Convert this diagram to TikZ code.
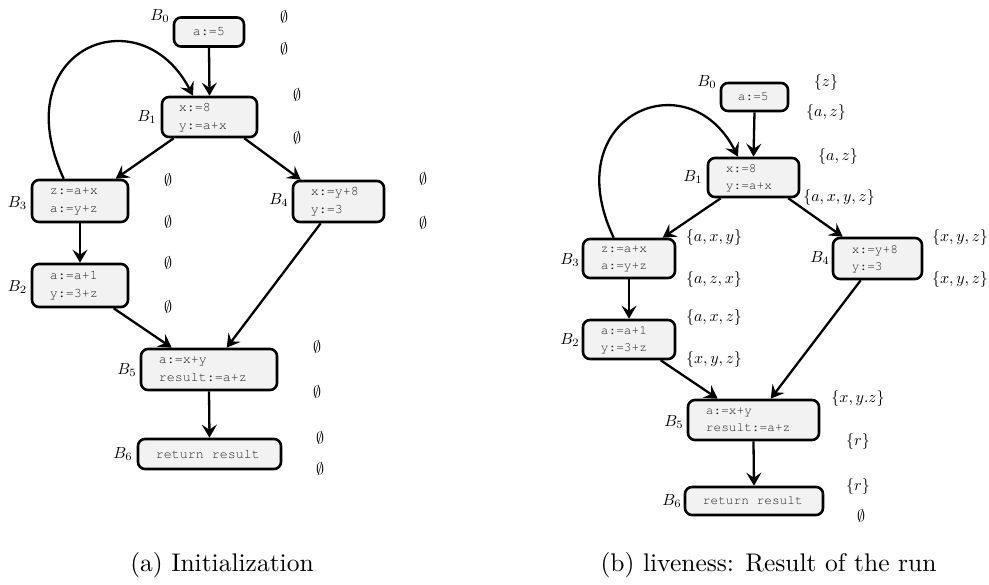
\documentclass[tikz,border=0pt]{standalone}
\usepackage[T1]{fontenc}
\usepackage{fontspec}
\usetikzlibrary{arrows.meta}
\newcommand{\crfont}[2]{\fontencoding{T1}\fontfamily{pcr}\fontseries{m}\fontshape{n}\fontsize{#1}{#2}\selectfont}
\tikzset{
  blk/.style={draw=black, line width=2.6pt, rounded corners=7pt, fill=black!5, inner sep=0pt},
  codeL/.style={font=\crfont{13.33}{18}, text=black!85, align=left, inner sep=0pt, anchor=west},
  codeR/.style={font=\crfont{12.8}{17}, text=black!85, align=left, inner sep=0pt, anchor=west},
  arr/.style={line width=2.3pt, -{Stealth[length=13pt,width=15pt,inset=5pt]}},
  lab/.style={inner sep=0pt, scale=1.6},
  captxt/.style={inner sep=0pt, scale=2.55}
}
\begin{document}
\begin{tikzpicture}[x=1pt,y=-1pt]
\useasboundingbox (0,0) rectangle (989,585);
% ---------- left diagram ----------
\node[blk, minimum width=70pt, minimum height=29pt] (a0) at (209,32) {};
\node[blk, minimum width=95pt, minimum height=40pt] (a1) at (209.5,117) {};
\node[blk, minimum width=96pt, minimum height=42pt] (a3) at (80,201) {};
\node[blk, minimum width=91pt, minimum height=41pt] (a4) at (338.5,201.5) {};
\node[blk, minimum width=96pt, minimum height=43pt] (a2) at (80,285.5) {};
\node[blk, minimum width=136pt, minimum height=41pt] (a5) at (209,369.5) {};
\node[blk, minimum width=143pt, minimum height=30pt] (a6) at (209.5,454) {};
\node[codeL] (ta0) at ([xshift=20pt]a0.west) {a:=5};
\node[codeL] (ta1) at ([xshift=18pt]a1.west) {x:=8\\y:=a+x};
\node[codeL] (ta3) at ([xshift=19pt]a3.west) {z:=a+x\\a:=y+z};
\node[codeL] (ta4) at ([xshift=19pt]a4.west) {x:=y+8\\y:=3};
\node[codeL] (ta2) at ([xshift=19pt]a2.west) {a:=a+1\\y:=3+z};
\node[codeL] (ta5) at ([xshift=19pt]a5.west) {a:=x+y\\result:=a+z};
\node[codeL] (ta6) at ([xshift=19pt]a6.west) {return result};
\draw[arr] (a0.south) -- (a1.north);
\draw[arr] ([xshift=13pt]a1.south west) -- ([xshift=85pt]a3.north west);
\draw[arr] ([xshift=-14pt]a1.south east) -- ([xshift=9pt]a4.north west);
\draw[arr] (a3.south) -- (a2.north);
\draw[arr] ([xshift=83pt]a2.south west) -- ([xshift=32pt]a5.north west);
\draw[arr] ([xshift=29pt]a4.south west) -- ([xshift=87pt]a5.north west);
\draw[arr] (a5.south) -- (a6.north);
\draw[arr] ([xshift=33pt]a3.north west) .. controls +(-60,-130) and +(-53,-102) .. ([xshift=-16.5pt]a1.north);
\node[lab] (la0) at (160,16) {$B_0$};
\node[lab] (la1) at (147,117) {$B_1$};
\node[lab] (la3) at (17.5,203) {$B_3$};
\node[lab] (la4) at (279,200) {$B_4$};
\node[lab] (la2) at (17.5,287) {$B_2$};
\node[lab] (la5) at (127,370) {$B_5$};
\node[lab] (la6) at (123,454) {$B_6$};
\node[lab] (e1) at (284,17) {$\emptyset$};
\node[lab] (e2) at (284,49) {$\emptyset$};
\node[lab] (e3) at (297,95) {$\emptyset$};
\node[lab] (e4) at (297,138) {$\emptyset$};
\node[lab] (e5) at (168,180) {$\emptyset$};
\node[lab] (e6) at (168,222) {$\emptyset$};
\node[lab] (e7) at (423,179) {$\emptyset$};
\node[lab] (e8) at (423,223) {$\emptyset$};
\node[lab] (e9) at (168,263) {$\emptyset$};
\node[lab] (e10) at (168,307) {$\emptyset$};
\node[lab] (e11) at (317,347) {$\emptyset$};
\node[lab] (e12) at (317,392) {$\emptyset$};
\node[lab] (e13) at (320,438) {$\emptyset$};
\node[lab] (e14) at (320,469) {$\emptyset$};
% ---------- right diagram ----------
\node[blk, minimum width=67pt, minimum height=28pt] (b0) at (754.5,97) {};
\node[blk, minimum width=91pt, minimum height=39pt] (b1) at (753.5,177.5) {};
\node[blk, minimum width=92pt, minimum height=39pt] (b3) at (629,258.5) {};
\node[blk, minimum width=89pt, minimum height=41pt] (b4) at (877.5,258.5) {};
\node[blk, minimum width=92pt, minimum height=39pt] (b2) at (629,339.5) {};
\node[blk, minimum width=131pt, minimum height=40pt] (b5) at (753.5,420) {};
\node[blk, minimum width=138pt, minimum height=28pt] (b6) at (754,501) {};
\node[codeR] (tb0) at ([xshift=18pt]b0.west) {a:=5};
\node[codeR] (tb1) at ([xshift=19pt]b1.west) {x:=8\\y:=a+x};
\node[codeR] (tb3) at ([xshift=19pt]b3.west) {z:=a+x\\a:=y+z};
\node[codeR] (tb4) at ([xshift=20pt]b4.west) {x:=y+8\\y:=3};
\node[codeR] (tb2) at ([xshift=19pt]b2.west) {a:=a+1\\y:=3+z};
\node[codeR] (tb5) at ([xshift=19pt]b5.west) {a:=x+y\\result:=a+z};
\node[codeR] (tb6) at ([xshift=19pt]b6.west) {return result};
\draw[arr] (b0.south) -- (b1.north);
\draw[arr] ([xshift=14pt]b1.south west) -- ([xshift=81pt]b3.north west);
\draw[arr] ([xshift=-12pt]b1.south east) -- ([xshift=11pt]b4.north west);
\draw[arr] (b3.south) -- (b2.north);
\draw[arr] ([xshift=79pt]b2.south west) -- ([xshift=31pt]b5.north west);
\draw[arr] ([xshift=29pt]b4.south west) -- ([xshift=84pt]b5.north west);
\draw[arr] (b5.south) -- (b6.north);
\draw[arr] ([xshift=32pt]b3.north west) .. controls +(-58,-122) and +(-50,-98) .. ([xshift=-15.5pt]b1.north);
\node[lab] (lb0) at (707,82) {$B_0$};
\node[lab] (lb1) at (693,177) {$B_1$};
\node[lab] (lb3) at (570,260) {$B_3$};
\node[lab] (lb4) at (820,258) {$B_4$};
\node[lab] (lb2) at (570,340) {$B_2$};
\node[lab] (lb5) at (674,422) {$B_5$};
\node[lab] (lb6) at (672,501) {$B_6$};
\node[lab] (s1) at (826,83) {$\{z\}$};
\node[lab] (s2) at (826,113) {$\{a, z\}$};
\node[lab] (s3) at (838,157) {$\{a, z\}$};
\node[lab] (s4) at (839,198) {$\{a, x, y, z\}$};
\node[lab] (s5) at (714,238) {$\{a, x, y\}$};
\node[lab] (s6) at (714,280) {$\{a, z, x\}$};
\node[lab] (s7) at (960,238) {$\{x, y, z\}$};
\node[lab] (s8) at (960,280) {$\{x, y, z\}$};
\node[lab] (s9) at (714,318) {$\{a, x, z\}$};
\node[lab] (s10) at (714,360) {$\{x, y, z\}$};
\node[lab] (s11) at (858,399) {$\{x, y.z\}$};
\node[lab] (s12) at (858,442) {$\{r\}$};
\node[lab] (s13) at (858,487) {$\{r\}$};
\node[lab] (s14) at (861,516) {$\emptyset$};
% ---------- captions ----------
\node[captxt] (capa) at (222,565) {(a) Initialization};
\node[captxt] (capb) at (768.5,565) {(b) liveness: Result of the run};
\end{tikzpicture}
\end{document}
